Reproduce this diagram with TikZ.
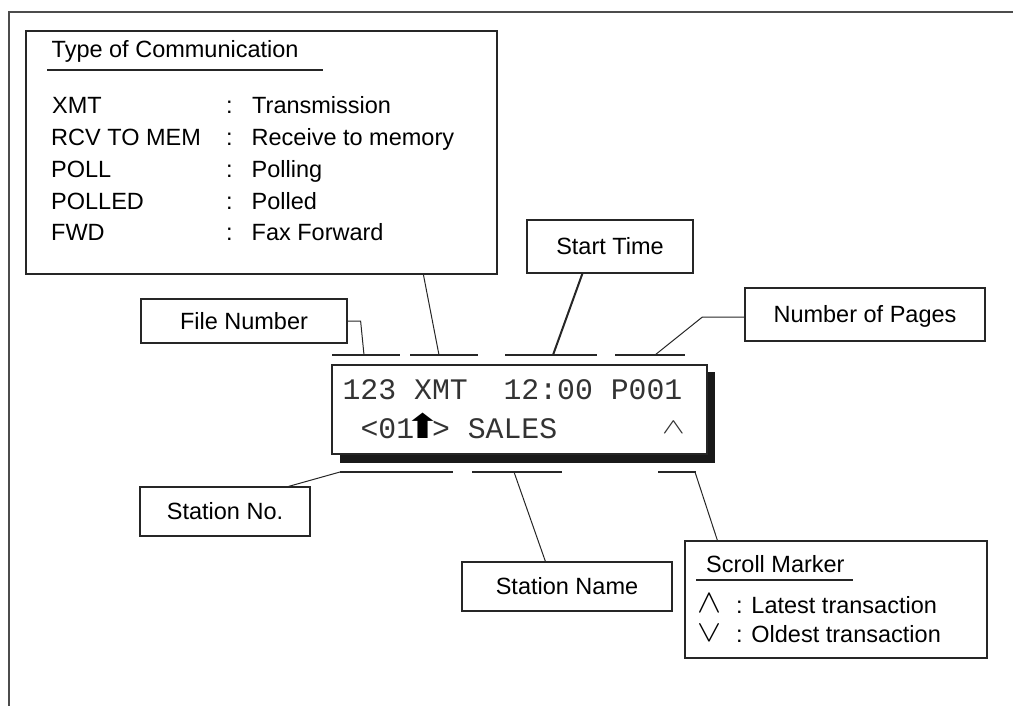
\documentclass[tikz,border=0pt]{standalone}
\usepackage{fontspec}
\setmainfont{Liberation Sans}
\newfontfamily\lcdfont{Liberation Mono}
\newfontfamily\dejavu{DejaVu Sans}
\usepackage{graphicx}
\begin{document}
\begin{tikzpicture}[x=1pt,y=-1pt,
  box/.style={draw=black!85, line width=1.2pt, fill=white, inner sep=0pt,
    font=\fontsize{23.5}{28}\selectfont, text height=16.8pt, text depth=0pt},
  lbl/.style={inner sep=0pt, anchor=base west, font=\fontsize{23.5}{28}\selectfont},
  colon/.style={inner sep=0pt, anchor=base, font=\fontsize{23.5}{28}\selectfont},
  lcdtxt/.style={inner sep=0pt, anchor=base west, text=black!80,
    font=\fontsize{29.8}{32}\lcdfont},
  conn/.style={line width=1pt, draw=black!85},
  seg/.style={line width=1.2pt, draw=black!85}]
\useasboundingbox (0,0) rectangle (1013,706);
\draw[line width=1.5pt, black!70] (9,706) -- (9,12) -- (1013,12);

% Type of communication box
\node[box, minimum width=471pt, minimum height=243pt] (comm) at (261.5,152.5) {};
\node[lbl] (commtitle) at (51.5,58) {Type of Communication};
\draw[seg] (47,70) -- (323,70);
\node[lbl] (k1) at (52,114) {XMT};
\node[lbl] (k2) at (51,146) {RCV TO MEM};
\node[lbl] (k3) at (51,177.7) {POLL};
\node[lbl] (k4) at (51,209.3) {POLLED};
\node[lbl] (k5) at (51,240.7) {FWD};
\node[colon] (c1) at (229.5,114) {:};
\node[colon] (c2) at (229.5,146) {:};
\node[colon] (c3) at (229.5,177.7) {:};
\node[colon] (c4) at (229.5,209.3) {:};
\node[colon] (c5) at (229.5,240.7) {:};
\node[lbl] (v1) at (252,114) {Transmission};
\node[lbl] (v2) at (251.5,146) {Receive to memory};
\node[lbl] (v3) at (251.5,177.7) {Polling};
\node[lbl] (v4) at (251.5,209.3) {Polled};
\node[lbl] (v5) at (251.5,240.7) {Fax Forward};

% label boxes
\node[box, minimum width=206pt, minimum height=44pt] (filenum) at (244,321) {File Number};
\node[box, minimum width=166pt, minimum height=53pt] (start) at (610,246.5) {Start Time};
\node[box, minimum width=240pt, minimum height=53pt] (pages) at (865,314.5) {Number of Pages};
\node[box, minimum width=170pt, minimum height=49pt] (stno) at (225,511.5) {Station No.};
\node[box, minimum width=210pt, minimum height=49pt] (stname) at (567,586.5) {Station Name};
\node[box, minimum width=302pt, minimum height=117pt] (scroll) at (836,599.5) {};

% scroll marker contents
\node[lbl] (sctitle) at (706,572) {Scroll Marker};
\draw[seg] (696,580) -- (853,580);
\node[inner sep=0pt, anchor=south] (up) at (709,613) {\scalebox{3.6}[3.3]{$\wedge$}};
\node[inner sep=0pt, anchor=south] (down) at (709,642) {\scalebox{3.6}[3.0]{$\vee$}};
\node[lbl] (latest) at (736,613) {: Latest transaction};
\node[lbl] (oldest) at (736,642) {: Oldest transaction};

% LCD display
\fill[black!90] (340,372) rectangle (715,463);
\node[box, minimum width=375pt, minimum height=89pt] (lcd) at (519.5,409.5) {};
\node[lcdtxt] (line1) at (342.4,399) {123 XMT~~12:00 P001};
\node[lcdtxt] (line2) at (360.3,438) {<01\makebox[17.88pt]{\scalebox{1.7}[1.3]{\fontsize{26}{26}\dejavu\textcolor{black}{⬆}}}> SALES};
\node[inner sep=0pt, anchor=south, text=black!80] (mark) at (673.5,433.5) {\scalebox{3.4}[2.15]{$\wedge$}};

% field segments
\coordinate (t1a) at (332,355); \coordinate (t1b) at (400,355);
\coordinate (t2a) at (410,355); \coordinate (t2b) at (478,355);
\coordinate (t3a) at (505,355); \coordinate (t3b) at (597,355);
\coordinate (t4a) at (615,355); \coordinate (t4b) at (685,355);
\coordinate (b1a) at (340,472); \coordinate (b1b) at (453,472);
\coordinate (b2a) at (472,472); \coordinate (b2b) at (562,472);
\coordinate (b3a) at (658,472); \coordinate (b3b) at (696,472);
\draw[seg] (t1a) -- (t1b);
\draw[seg] (t2a) -- (t2b);
\draw[seg] (t3a) -- (t3b);
\draw[seg] (t4a) -- (t4b);
\draw[seg] (b1a) -- (b1b);
\draw[seg] (b2a) -- (b2b);
\draw[seg] (b3a) -- (b3b);

% connection points
\coordinate (fnp) at (364,355);
\coordinate (cmp) at (439,355);
\coordinate (stp) at (553,355);
\coordinate (pgp) at (655,355);
\coordinate (snp) at (340,472);
\coordinate (nmp) at (514,472);
\coordinate (scp) at (695,472);

% connectors
\draw[conn] ([xshift=398pt]comm.south west) -- (cmp);
\draw[conn] (filenum.east) -- ++(13,0) -- (fnp);
\draw[conn, line width=2pt] ([xshift=56pt]start.south west) -- (stp);
\draw[conn] ([yshift=-2.5pt]pages.west) -- ++(-42,0) -- (pgp);
\draw[conn] ([xshift=-22pt]stno.north east) -- (snp);
\draw[conn] (nmp) -- ([xshift=84pt]stname.north west);
\draw[conn] (scp) -- ([xshift=33pt]scroll.north west);
\end{tikzpicture}
\end{document}
